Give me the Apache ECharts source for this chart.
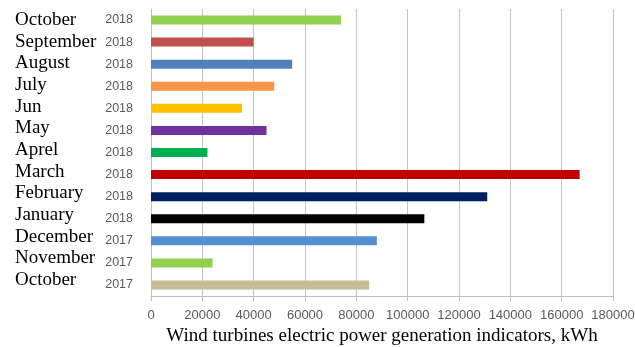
<!DOCTYPE html>
<html>
<head>
<meta charset="utf-8">
<script src="https://cdn.jsdelivr.net/npm/echarts@6/dist/echarts.min.js"></script>
<style>
  html, body { margin: 0; padding: 0; background: #fff; }
  #chart { width: 635px; height: 347px; }
</style>
</head>
<body>
<div id="chart"></div>
<script>
// Monthly generation, listed from the top row down
const months = ['October', 'September', 'August', 'July', 'Jun', 'May', 'Aprel',
                'March', 'February', 'January', 'December', 'November', 'October'];
const years = ['2018', '2018', '2018', '2018', '2018', '2018', '2018',
               '2018', '2018', '2018', '2017', '2017', '2017'];
const generation = [74000, 40000, 55000, 48000, 35500, 45000, 22000,
                    167000, 131000, 106500, 88000, 24000, 85000];
const barColors = ['#92D050', '#C0504D', '#4F81BD', '#F79646', '#FFC000', '#7030A0', '#00B050',
                   '#C00000', '#002060', '#000000', '#558ED5', '#92D050', '#C4BD97'];
const xTicks = { min: 0, max: 180000, step: 20000 };

const rowKeys = months.map((m, i) => i);

const chart = echarts.init(document.getElementById('chart'), null, { renderer: 'canvas' });

chart.setOption({
  animation: false,
  backgroundColor: '#ffffff',
  grid: [
    { left: 151, right: 22, top: 9, bottom: 51, containLabel: false, outerBoundsMode: 'none' },
    { left: 151, right: 22, top: 9, bottom: 56, containLabel: false, outerBoundsMode: 'none' }
  ],
  xAxis: [
    {
      type: 'value',
      gridIndex: 0,
      min: xTicks.min,
      max: xTicks.max,
      interval: xTicks.step,
      axisLine: { show: true, lineStyle: { color: '#bfbfbf', width: 1 } },
      axisTick: { show: true, length: 5, lineStyle: { color: '#bfbfbf' } },
      splitLine: { show: true, lineStyle: { color: '#c4c4c4', width: 1 } },
      axisLabel: {
        formatter: (v) => String(v),
        color: '#595959', fontSize: 13, margin: 13,
        fontFamily: 'Liberation Sans, Arial, sans-serif'
      },
      name: 'Wind turbines electric power generation indicators, kWh',
      nameLocation: 'middle',
      nameGap: 26,
      nameTextStyle: {
        color: '#000', fontSize: 19,
        fontFamily: 'Liberation Serif, Times New Roman, serif'
      }
    },
    { type: 'value', gridIndex: 1, show: false, min: 0, max: 1 }
  ],
  yAxis: [
    {
      type: 'category',
      gridIndex: 0,
      inverse: true,
      data: rowKeys,
      axisLine: { show: true, lineStyle: { color: '#bfbfbf', width: 1 } },
      axisTick: { show: false },
      splitLine: { show: false },
      axisLabel: {
        interval: 0,
        formatter: (v) => years[v],
        color: '#595959', fontSize: 12.5, margin: 18,
        fontFamily: 'Liberation Sans, Arial, sans-serif'
      }
    },
    {
      type: 'category',
      gridIndex: 1,
      inverse: true,
      data: rowKeys,
      axisLine: { show: false },
      axisTick: { show: false },
      splitLine: { show: false },
      axisLabel: {
        interval: 0,
        hideOverlap: false,
        formatter: (v) => months[v],
        align: 'left',
        margin: 136,
        color: '#000', fontSize: 19,
        fontFamily: 'Liberation Serif, Times New Roman, serif'
      }
    }
  ],
  series: [
    {
      type: 'bar',
      xAxisIndex: 0,
      yAxisIndex: 0,
      barWidth: 9,
      data: generation.map((v, i) => ({ value: v, itemStyle: { color: barColors[i] } }))
    }
  ]
});
</script>
</body>
</html>
